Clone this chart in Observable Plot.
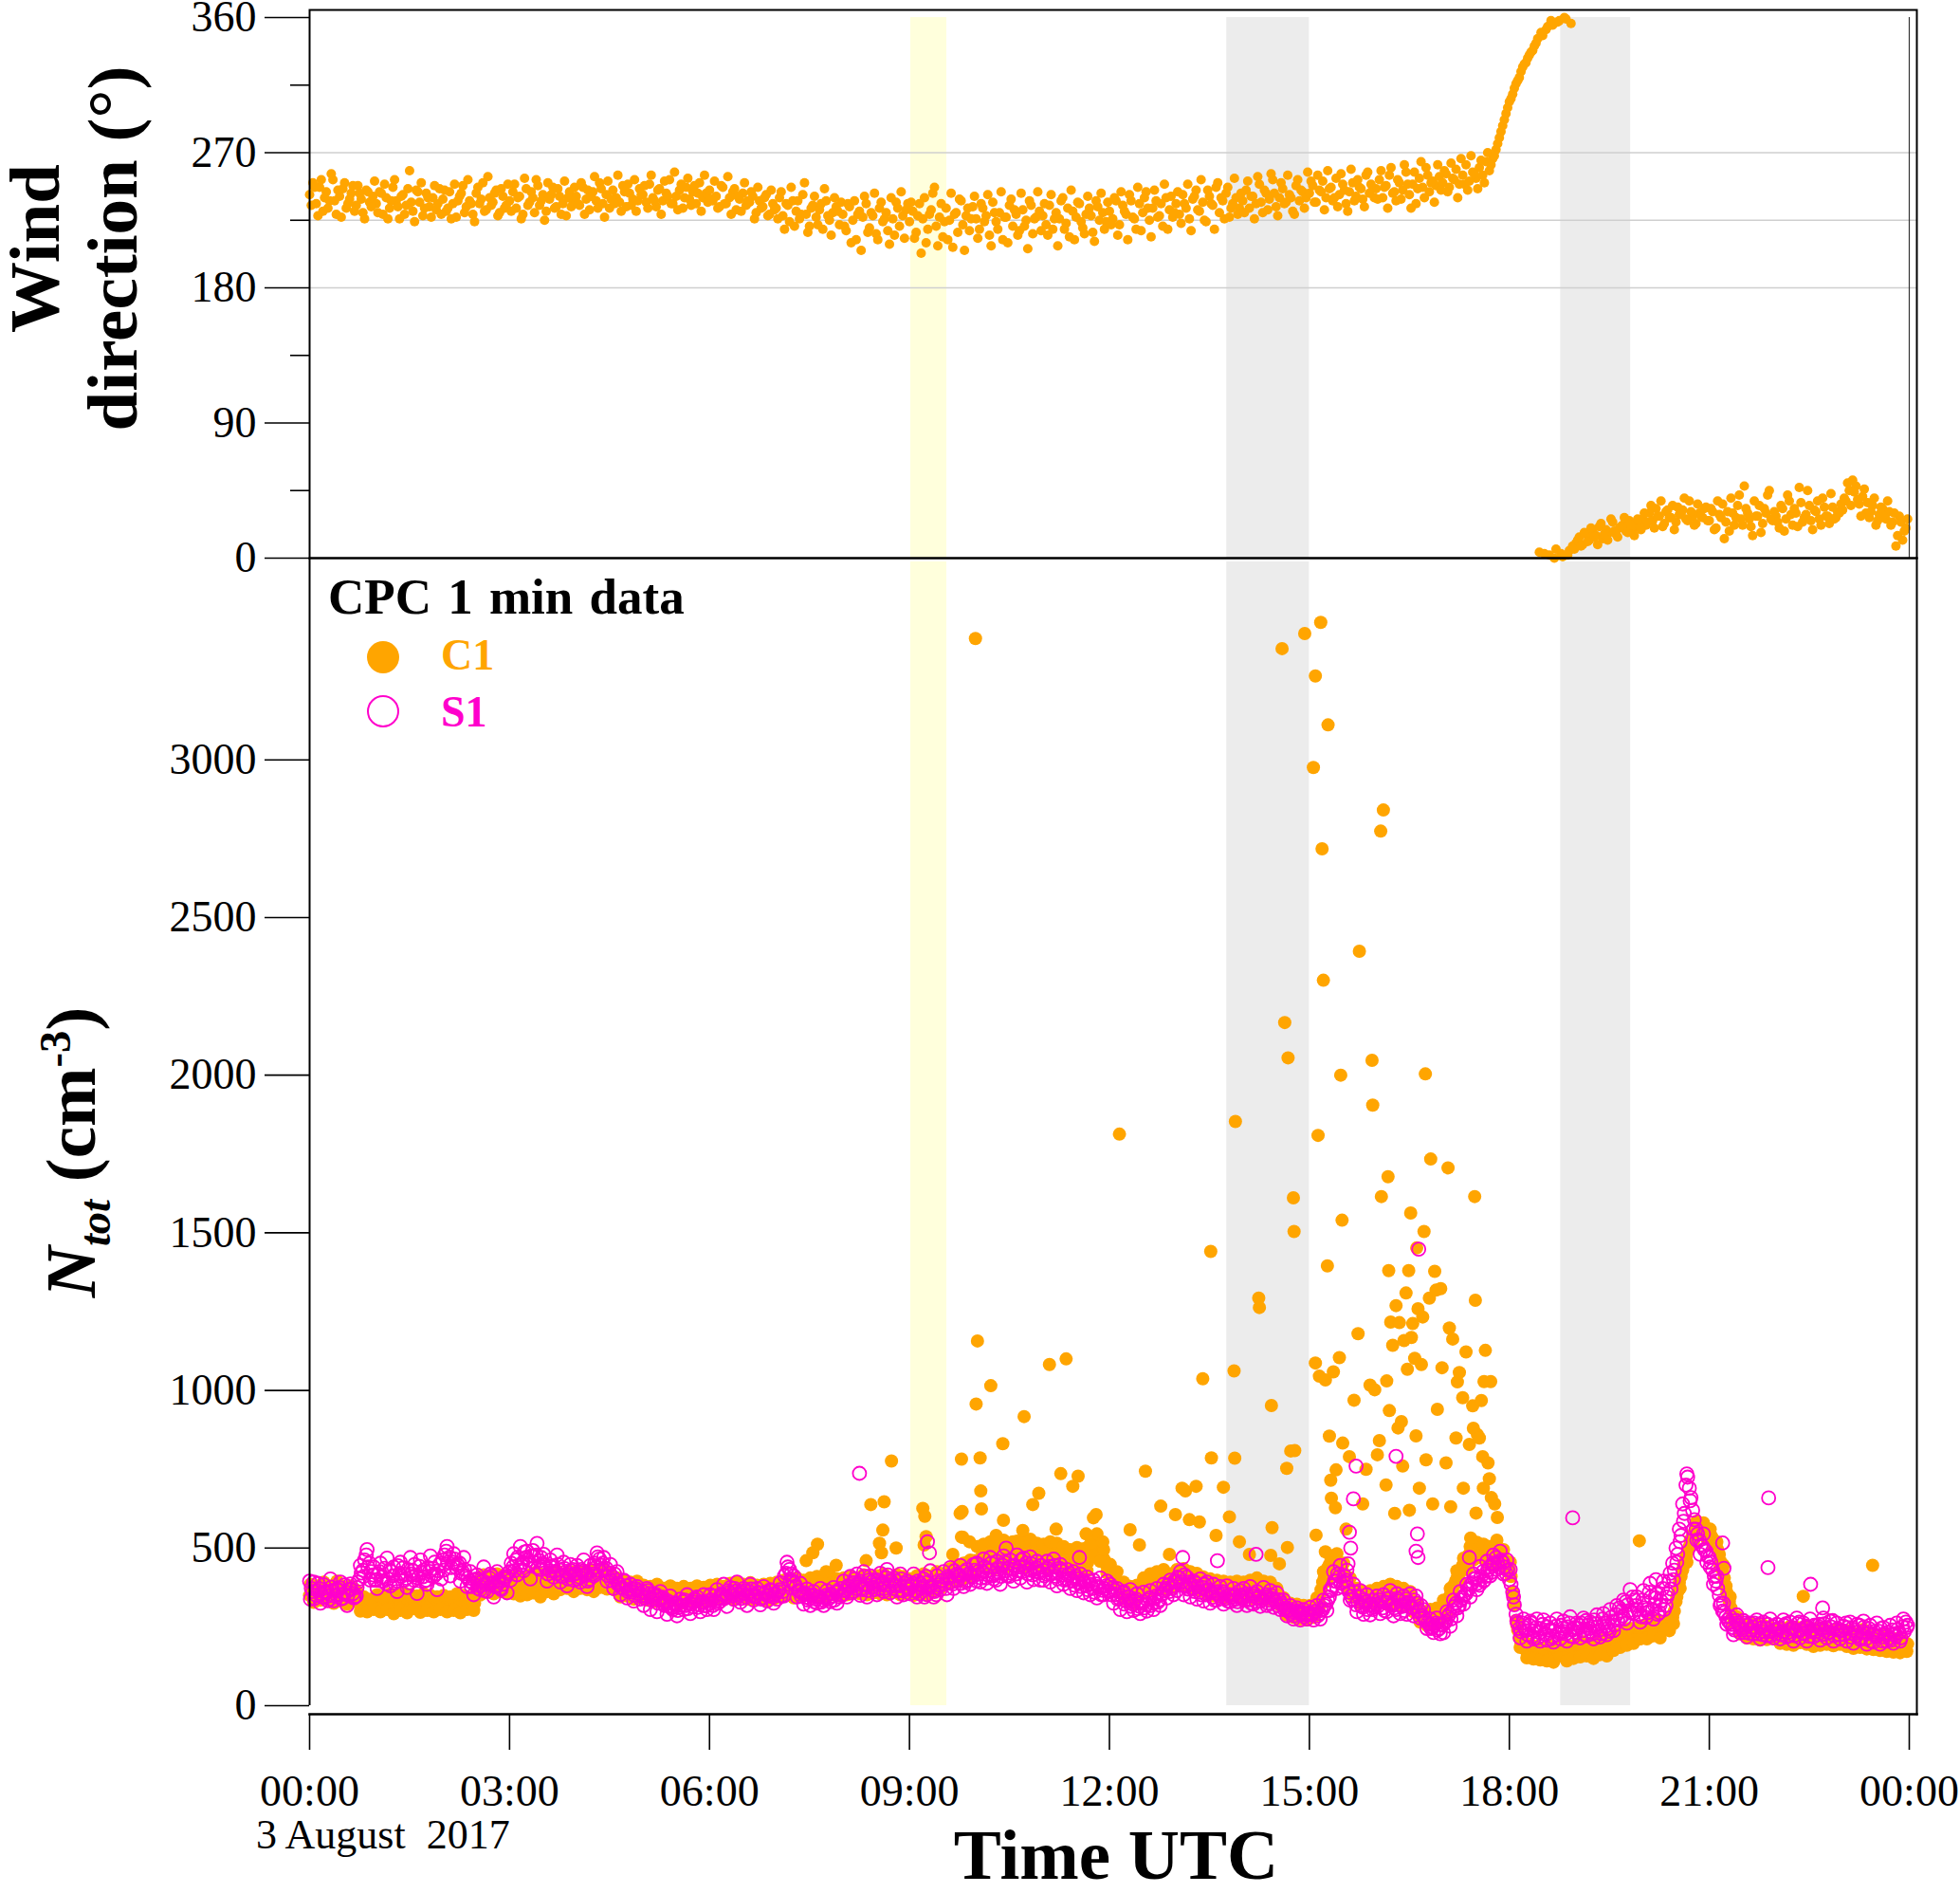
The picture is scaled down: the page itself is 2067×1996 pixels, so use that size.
<!DOCTYPE html>
<html>
<head>
<meta charset="utf-8">
<script src="https://cdn.jsdelivr.net/npm/d3@7"></script>
<script src="https://cdn.jsdelivr.net/npm/@observablehq/plot@0.6"></script>
<style>
  body { margin: 0; background: #fff; font-family: "Liberation Serif", "Times New Roman", serif; }
  #fig { position: relative; width: 2067px; height: 1996px; overflow: hidden; }
  #fig svg { position: absolute; left: 0; }
  .lab { position: absolute; white-space: nowrap; color: #000; line-height: 1; }
  .rot { transform: translate(-50%, -50%) rotate(-90deg); text-align: center; font-weight: bold; }
</style>
</head>
<body>
<div id="fig">
  <div id="windPanel"></div>
  <div id="ntotPanel"></div>
  <div class="lab rot" style="left:78px; top:262px; font-size:75px; line-height:82px;">Wind<br>direction (°)</div>
  <div class="lab rot" style="left:80px; top:1215px; font-size:75px;"><i>N</i><sub style="font-size:0.62em"><i>tot</i></sub> (cm<sup style="font-size:0.62em">-3</sup>)</div>
  <div class="lab" style="left:346px; top:603px; font-size:53px; font-weight:bold; word-spacing:4px;">CPC 1 min data</div>
  <svg style="left:380px; top:665px;" width="60" height="115">
    <circle cx="24" cy="28" r="17" fill="#ffa500"></circle>
    <circle cx="24" cy="85" r="16" fill="none" stroke="#ff00cc" stroke-width="2"></circle>
  </svg>
  <div class="lab" style="left:465px; top:668px; font-size:46px; font-weight:bold; color:#ffa500;">C1</div>
  <div class="lab" style="left:465px; top:728px; font-size:46px; font-weight:bold; color:#ff00cc;">S1</div>
  <div class="lab" style="left:270px; top:1913px; font-size:44px;">3 August&nbsp; 2017</div>
  <div class="lab" style="left:1177px; top:1918px; font-size:75px; font-weight:bold; transform:translateX(-50%);">Time UTC</div>
</div>
<script>
// wind direction (deg), one row per hour, 3-min samples on the minute
const windDir = [
  [242,250,236,247,231,244,238,252,229,241,246,233,239,248,235,243,230,245,237,241],
  [236,244,229,240,233,247,238,226,242,235,258,231,245,237,228,243,234,240,232,246],
  [239,231,244,236,227,241,248,234,238,229,243,236,250,232,240,237,245,230,241,235],
  [238,244,233,241,229,246,237,240,252,235,242,231,239,247,234,241,236,228,244,238],
  [241,235,247,239,232,244,238,250,236,242,233,245,240,237,248,234,243,239,231,246],
  [242,237,249,240,234,246,238,243,252,236,241,245,233,247,239,244,236,250,240,243],
  [245,238,241,234,247,236,240,244,232,239,243,235,237,241,230,238,234,242,229,236],
  [233,240,228,236,224,238,231,226,242,229,221,235,227,232,219,238,225,230,234,222],
  [229,218,234,225,212,231,227,236,220,228,216,233,224,230,209,226,237,221,228,232],
  [224,231,217,236,226,210,229,243,221,227,214,233,225,207,230,239,222,228,218,234],
  [226,219,233,228,215,237,224,230,212,227,235,221,229,218,232,225,238,216,227,231],
  [228,222,235,219,230,226,240,223,214,231,227,236,220,229,233,217,238,225,230,224],
  [231,226,238,222,235,229,242,227,219,236,230,244,225,233,238,228,221,240,232,227],
  [236,229,242,233,226,239,245,231,237,224,241,235,247,230,238,243,227,236,240,233],
  [238,245,233,241,236,249,230,243,239,252,234,240,246,237,242,231,248,238,244,240],
  [243,248,237,245,251,240,246,238,253,242,249,236,244,250,241,247,239,255,243,246],
  [246,252,240,248,255,243,238,250,245,257,242,249,236,253,247,260,244,251,248,254],
  [250,256,247,253,259,249,255,262,251,257,253,260,255,264,258,266,272,280,288,296],
  [304,309,316,320,327,330,335,338,343,4,348,352,2,355,6,358,1,359,5,8],
  [10,14,9,16,12,18,15,21,13,19,17,24,16,20,22,18,25,19,23,21],
  [26,22,30,25,33,28,21,31,27,35,24,29,32,26,38,28,23,30,27,34],
  [25,31,20,29,36,24,18,30,27,42,22,33,26,15,28,35,23,30,45,25],
  [28,20,33,26,38,22,30,47,24,29,35,19,31,26,40,28,23,34,27,30],
  [32,38,45,52,48,36,41,30,27,35,22,29,33,26,31,24,8,28,12,20]
];
// wind direction (deg), the in-between samples (1.5 min later)
const windDirB = [
  [235,247,228,252,240,233,256,238,245,227,250,236,243,231,248,239,226,244,234,251],
  [230,243,249,226,238,252,234,241,229,246,237,224,244,250,233,240,227,248,236,229],
  [245,233,226,249,238,243,230,252,236,224,247,239,231,254,235,243,228,246,233,249],
  [231,249,240,226,253,235,244,230,248,238,225,250,242,233,246,229,251,240,234,247],
  [236,250,229,245,241,254,233,246,227,251,239,236,255,231,244,249,235,252,238,242],
  [248,233,255,238,245,229,251,241,236,257,232,249,240,253,235,248,243,231,255,237],
  [239,251,233,248,236,254,229,246,241,231,250,238,244,226,247,233,240,228,245,232],
  [226,244,219,235,247,221,238,229,250,217,233,241,222,236,246,228,215,240,231,237],
  [221,236,210,238,229,205,241,217,230,243,212,237,226,218,240,215,233,244,213,236],
  [237,213,228,203,240,219,232,247,208,236,224,212,243,229,217,238,205,233,226,241],
  [213,236,224,242,208,230,219,244,227,210,239,232,215,243,221,206,235,226,244,218],
  [236,215,242,226,208,238,219,233,245,212,237,224,216,241,228,211,234,243,219,237],
  [222,240,215,244,231,212,238,226,247,218,240,233,214,245,227,236,249,219,241,230],
  [244,223,236,249,218,241,232,252,225,245,236,219,250,240,226,247,233,253,229,243],
  [230,251,241,226,254,237,245,232,256,243,228,250,236,255,240,229,252,245,233,257],
  [251,237,255,244,232,258,247,240,234,256,245,231,259,238,252,246,234,257,249,240],
  [239,258,247,233,260,244,252,239,262,249,233,257,246,264,240,255,250,237,262,245],
  [258,244,263,252,240,266,249,245,268,256,246,265,250,270,262,268,276,284,292,300],
  [306,313,318,324,329,333,337,341,346,350,3,354,358,0,357,3,360,2,356,6],
  [12,8,17,11,20,14,9,23,16,12,26,18,14,21,27,17,22,15,26,19],
  [30,24,35,20,28,38,23,32,27,19,34,29,40,25,31,22,36,28,33,25],
  [33,19,38,27,13,31,40,22,35,26,48,30,21,38,28,17,33,42,26,31],
  [24,35,18,42,29,33,21,37,27,45,25,32,38,22,34,28,43,26,31,36],
  [40,50,35,44,39,28,46,37,31,40,25,34,28,38,22,30,15,24,18,26]
];

// CPC C1 (cm-3), one row per hour, 3-min samples
const c1 = [
  [350,372,338,362,345,378,355,340,368,348,375,342,360,352,335,328,318,332,310,325],
  [318,335,322,340,312,330,325,338,315,328,342,320,334,312,326,345,322,336,318,330],
  [326,340,315,332,322,345,328,318,335,312,360,385,372,395,380,402,388,375,392,380],
  [372,366,380,358,374,362,385,368,378,392,370,384,396,378,402,388,395,410,392,400],
  [388,405,395,412,398,385,402,392,410,396,405,388,380,372,385,366,378,360,372,358],
  [365,352,370,348,362,355,344,360,350,342,358,346,352,360,340,355,348,362,345,356],
  [350,362,345,368,356,372,360,375,362,355,370,358,366,352,362,348,360,355,368,350],
  [360,372,355,378,362,368,382,365,375,358,372,385,362,378,355,370,388,362,375,368],
  [360,375,368,382,358,390,372,365,395,378,362,385,370,392,375,368,398,382,365,372],
  [375,362,388,370,358,382,365,392,378,402,385,410,395,420,405,432,418,442,425,450],
  [435,460,442,475,452,488,470,445,462,495,478,455,482,468,500,475,458,490,465,480],
  [470,492,458,482,465,445,478,452,440,468,455,432,460,445,480,505,520,495,470,448],
  [430,412,398,385,370,358,345,362,352,375,390,372,398,385,405,392,410,395,385,402],
  [410,420,398,415,392,405,388,400,372,385,368,378,360,375,365,380,358,372,362,378],
  [370,358,376,362,380,365,372,355,368,350,345,332,320,310,302,296,308,292,300,290],
  [295,302,318,345,392,420,448,470,455,440,425,398,382,365,350,342,330,348,335,352],
  [345,360,338,355,370,348,362,336,352,330,345,318,300,288,275,268,280,272,290,282],
  [300,318,345,372,398,420,445,462,480,495,470,505,488,472,460,475,510,488,470,455],
  [430,360,270,215,190,175,168,180,160,172,155,168,178,150,165,185,170,158,175,162],
  [170,182,165,190,175,160,185,172,195,168,180,200,188,210,195,222,205,218,230,212],
  [225,240,218,252,235,228,245,260,238,280,330,390,430,470,505,540,560,575,565,550],
  [545,530,510,480,430,380,330,290,265,250,240,232,245,228,238,222,235,218,230,225],
  [220,232,215,228,240,212,226,218,235,222,210,230,216,205,225,212,220,208,228,215],
  [210,222,205,218,200,215,225,198,212,205,195,210,202,190,205,195,185,200,192,188]
];
// CPC C1 (cm-3), samples 1.5 min later
const c1B = [
  [362,345,380,352,368,340,372,358,345,380,355,366,342,370,328,315,335,322,308,330],
  [328,312,345,320,335,308,342,325,318,338,312,330,345,318,335,322,340,315,328,342],
  [318,335,328,310,342,322,336,315,330,325,375,368,392,380,398,372,390,405,385,398],
  [385,375,362,388,370,395,358,380,392,372,398,378,385,405,390,412,385,398,405,388],
  [402,392,415,388,405,395,412,386,400,415,392,398,375,390,362,380,355,368,365,372],
  [358,368,345,362,350,365,352,340,362,348,355,338,365,350,358,345,362,338,352,348],
  [358,345,372,350,365,355,368,352,378,365,358,372,355,368,345,362,350,372,358,362],
  [368,355,372,362,385,370,360,378,392,370,380,362,395,368,382,360,375,398,380,362],
  [372,388,362,395,375,368,402,380,372,395,385,378,400,365,388,395,372,390,385,378],
  [362,385,372,395,380,370,395,402,385,410,395,420,402,432,415,438,425,455,440,460],
  [452,470,448,490,462,475,455,498,472,460,488,470,495,475,488,462,505,478,495,470],
  [485,465,498,472,490,458,488,470,455,478,462,448,472,455,498,515,505,482,462,440],
  [418,402,388,372,362,352,370,345,365,382,368,395,378,402,388,412,398,405,392,410],
  [402,412,392,425,405,395,412,385,395,375,392,370,385,368,378,352,370,382,368,372],
  [362,378,365,385,370,358,380,362,375,358,340,325,315,305,298,305,295,302,288,298],
  [302,295,325,368,408,438,462,452,448,432,412,390,375,358,345,355,338,342,348,340],
  [352,340,365,348,358,340,355,345,338,342,330,312,295,282,270,275,285,278,285,295],
  [312,330,358,385,410,432,452,475,492,482,498,490,478,465,482,468,495,478,462,445],
  [410,320,240,200,182,170,178,165,170,158,165,160,170,158,172,178,162,168,165,172],
  [178,165,185,172,182,168,178,190,175,185,192,195,205,198,215,208,225,212,222,235],
  [232,228,245,240,255,238,252,268,262,300,360,410,450,490,520,550,570,560,555,540],
  [540,520,495,455,405,350,310,278,260,245,235,248,230,242,225,238,228,240,222,232],
  [215,225,230,208,232,222,212,238,215,228,218,205,222,235,212,225,205,218,222,210],
  [218,200,212,225,208,195,218,205,215,198,208,192,212,198,188,205,192,195,182,196]
];
// CPC C1 (cm-3), samples 0.75 min later (the wider scatter)
const c1C = [
  [385,328,372,335,392,338,378,325,395,332,368,322,380,345,362,300,345,298,338,305],
  [352,298,345,305,355,292,348,302,358,295,352,308,348,296,355,302,350,298,345,305],
  [350,298,345,302,355,295,350,305,338,302,395,352,415,362,408,355,418,362,412,358],
  [405,355,412,348,402,352,415,358,425,345,410,362,422,355,428,368,418,372,425,362],
  [428,372,425,368,432,362,422,375,428,370,420,368,405,345,398,348,392,338,395,342],
  [382,335,378,330,385,332,372,328,380,335,372,325,378,335,372,330,380,328,375,335],
  [382,335,385,338,378,342,388,335,392,345,385,338,390,335,382,340,385,332,388,338],
  [392,345,398,350,395,342,405,348,398,352,405,345,410,342,398,350,412,352,402,348],
  [405,352,410,358,402,355,415,352,408,358,412,355,418,352,405,360,415,352,410,355],
  [402,350,412,355,418,352,410,365,425,372,418,385,435,392,445,395,452,405,462,418],
  [505,438,512,445,520,432,515,448,525,440,512,452,522,445,518,438,528,448,515,442],
  [512,438,520,445,515,432,505,448,495,425,502,418,498,428,512,475,545,458,495,422],
  [448,395,425,362,392,335,378,325,382,352,405,362,418,365,425,372,432,368,418,375],
  [432,385,435,378,425,372,420,365,408,355,402,348,398,345,395,342,392,348,395,345],
  [392,345,398,338,405,342,395,335,392,338,372,318,342,288,325,280,322,275,318,272],
  [318,280,342,320,425,395,475,430,482,418,452,372,405,345,372,325,362,322,365,325],
  [372,325,378,322,385,328,378,322,372,318,362,298,325,265,298,255,305,262,310,268],
  [335,288,372,345,428,392,468,432,505,462,518,470,512,452,505,445,525,462,495,428],
  [455,345,255,185,205,152,195,148,188,145,182,142,192,138,185,158,190,142,188,150],
  [195,155,202,158,198,150,205,162,210,158,212,175,225,185,235,192,245,198,248,212],
  [255,212,262,222,272,215,268,245,282,260,345,372,445,455,525,520,585,555,580,530],
  [560,505,520,440,445,360,345,262,282,228,258,215,262,212,255,208,255,210,248,212],
  [238,198,245,195,252,192,248,200,250,195,240,188,245,192,248,195,235,190,242,195],
  [232,188,238,182,228,185,242,180,232,178,222,175,228,172,218,170,212,168,205,172]
];

// C1 isolated high readings [hour, cm-3]
const c1Spikes = [
  [7.45,460],[7.55,485],[7.62,512],[7.75,425],[7.9,445],[8.05,405],
  [8.35,460],[8.42,638],[8.55,515],[8.58,485],[8.6,557],[8.62,647],[8.73,776],[8.8,500],
  [9.2,626],[9.22,510],[9.23,601],[9.25,536],[9.65,480],[9.76,610],[9.78,782],[9.78,535],
  [9.8,534],[9.79,616],[9.9,520],[9.99,3385],[10.0,957],[10.02,1157],
  [10.06,786],[10.07,681],[10.08,624],[10.22,1015],[10.3,540],[10.4,831],[10.41,588],
  [10.55,520],[10.7,556],[10.72,917],[10.85,638],[10.94,674],
  [11.1,1082],[11.2,560],[11.27,736],[11.35,1100],[11.45,696],[11.53,728],[11.65,545],
  [11.76,596],[11.8,606],[11.9,520],
  [12.15,1813],[12.31,558],[12.45,510],[12.54,744],[12.77,633],[12.9,480],[12.99,606],
  [13.09,690],[13.14,681],[13.2,590],[13.3,696],[13.35,583],[13.4,1037],[13.52,1441],
  [13.53,786],[13.6,540],[13.71,693],[13.8,599],[13.87,1062],[13.88,785],[13.89,1853],[13.95,520],
  [14.1,480],[14.24,1293],[14.25,1263],[14.42,477],[14.43,952],[14.44,565],[14.55,450],
  [14.59,3353],[14.63,2167],[14.66,753],[14.67,502],[14.68,2055],[14.72,808],[14.76,1611],
  [14.77,1504],[14.78,809],[14.93,3401],
  [15.06,2976],[15.09,3266],[15.09,1087],[15.1,541],[15.13,1809],[15.15,1045],[15.17,3436],
  [15.19,2718],[15.21,2301],[15.24,1033],[15.24,488],[15.27,1395],[15.28,3111],[15.3,855],
  [15.32,715],[15.33,658],[15.36,1059],[15.39,628],[15.4,748],[15.45,1104],[15.47,2000],
  [15.49,1540],[15.5,833],[15.55,560],[15.6,790],[15.67,969],[15.73,1180],[15.75,2393],
  [15.8,640],[15.85,750],[15.91,1017],[15.94,2047],[15.95,1905],[15.98,1002],
  [16.02,796],[16.05,841],[16.07,2774],[16.08,1615],[16.11,2841],[16.15,700],[16.16,1030],
  [16.18,1678],[16.19,1380],[16.2,936],[16.22,1217],[16.25,1143],[16.28,610],[16.3,1269],
  [16.33,881],[16.35,1215],[16.38,901],[16.4,760],[16.42,1158],[16.45,1309],[16.47,1067],
  [16.49,1380],[16.5,620],[16.52,1563],[16.53,1168],[16.55,1212],[16.58,1102],[16.6,856],
  [16.61,1452],[16.63,1259],[16.65,690],[16.68,1082],[16.7,1233],[16.72,1504],[16.74,2004],
  [16.75,780],[16.8,1293],[16.82,1734],[16.85,640],[16.88,1378],[16.9,1318],[16.92,940],
  [16.97,1323],[16.99,1072],
  [17.05,770],[17.08,1706],[17.1,1198],[17.12,631],[17.15,1163],[17.2,849],[17.22,1027],
  [17.25,1057],[17.3,977],[17.31,690],[17.35,1122],[17.4,829],[17.42,532],[17.45,951],
  [17.46,880],[17.48,1615],[17.49,1286],[17.5,611],[17.52,860],[17.55,849],[17.58,968],
  [17.6,790],[17.61,690],[17.62,1028],[17.64,1127],[17.68,770],[17.7,720],[17.72,1028],
  [17.73,660],[17.78,640],[17.82,597],
  [19.95,523],[22.41,347],[23.45,445]
];

// CPC S1 (cm-3), one row per hour, 3-min samples
const s1 = [
  [395,362,350,371,344,358,338,366,352,375,341,360,370,355,348,402,430,478,452,415],
  [398,425,408,386,431,412,395,420,437,404,390,428,415,442,409,398,426,436,418,447],
  [462,490,471,455,438,452,423,410,395,388,402,380,396,384,405,390,378,398,385,410],
  [425,440,462,438,455,470,447,492,478,460,451,436,428,444,419,431,410,426,415,432],
  [420,408,427,413,401,418,440,465,452,436,421,408,398,385,372,380,366,360,371,355],
  [362,348,356,340,352,335,344,328,316,305,322,312,330,318,326,314,335,320,328,317],
  [324,318,332,340,352,346,360,355,364,350,358,345,362,352,348,356,343,360,350,345],
  [355,368,362,420,432,395,378,362,355,345,340,352,338,346,335,350,342,348,360,345],
  [352,365,378,390,372,395,368,382,399,376,385,371,390,406,384,372,395,380,364,378],
  [370,388,362,355,378,410,374,365,352,383,398,372,405,386,398,415,402,392,420,408],
  [396,418,425,405,430,412,398,421,445,428,410,432,418,440,425,452,430,415,438,422],
  [430,418,442,425,410,436,415,402,420,395,410,388,398,380,395,372,386,375,366,380],
  [362,375,352,340,358,332,345,322,338,315,330,320,342,325,348,336,355,372,362,380],
  [395,405,382,378,392,370,388,360,375,352,368,344,356,348,362,340,352,345,338,350],
  [342,355,336,348,330,345,338,352,334,340,328,336,318,310,305,298,302,292,296,288],
  [295,290,300,292,305,322,345,380,395,410,376,398,360,338,320,345,312,330,318,305],
  [322,336,310,328,342,318,305,332,315,338,325,310,348,302,285,270,258,248,262,245],
  [255,268,290,302,325,318,342,355,372,390,405,382,425,410,440,452,470,438,455,420],
  [400,360,290,245,262,238,255,220,248,232,258,225,240,218,252,230,245,228,262,240],
  [232,255,238,270,245,228,260,240,275,252,236,268,290,310,285,330,302,345,318,290],
  [335,280,360,305,342,295,372,318,395,452,500,560,640,700,690,620,560,525,505,490],
  [470,430,395,350,300,282,265,248,270,255,240,262,230,250,238,258,225,245,235,252],
  [228,246,235,260,222,248,238,265,230,252,220,242,235,258,226,248,232,270,240,225],
  [238,262,230,248,222,255,235,212,244,228,218,236,205,226,215,240,220,232,250,265]
];
// CPC S1 (cm-3), samples 1.5 min later
const s1B = [
  [372,340,388,355,362,333,376,348,365,339,383,351,368,344,392,421,462,440,425,398],
  [418,396,436,402,425,389,444,410,398,432,418,448,405,422,395,438,412,455,428,402],
  [478,455,438,465,445,420,432,405,378,398,372,392,365,388,412,378,395,368,402,420],
  [452,428,471,446,488,462,475,455,438,470,445,418,440,425,448,410,435,402,428,418],
  [402,432,415,395,428,452,472,445,428,412,398,418,385,375,395,362,372,350,365,348],
  [342,365,335,348,325,340,318,332,310,325,302,318,335,308,322,340,312,330,318,332],
  [335,348,325,355,340,365,348,372,356,340,365,352,370,345,360,338,355,348,365,352],
  [362,348,412,440,418,388,365,348,358,335,348,330,345,328,342,338,355,335,365,350],
  [365,380,358,402,385,372,410,365,392,368,398,385,372,415,395,380,365,402,388,370],
  [382,365,395,372,345,392,380,362,375,395,385,410,392,428,412,388,425,398,412,430],
  [425,405,440,415,452,420,432,410,455,435,420,445,428,462,440,418,450,432,425,445],
  [412,435,420,445,402,428,398,415,405,382,402,378,392,368,385,360,378,352,372,365],
  [352,366,338,350,322,345,315,332,308,325,310,335,318,340,328,352,365,382,372,395],
  [408,392,415,370,385,362,378,352,385,365,358,335,362,340,355,332,345,352,330,342],
  [335,348,325,355,340,332,345,325,350,335,318,325,305,300,292,285,296,288,282,292],
  [288,298,285,302,318,335,365,395,418,388,412,375,348,362,332,318,336,305,322,312],
  [315,328,302,338,322,310,340,318,302,328,312,335,298,318,278,262,245,255,240,258],
  [262,282,275,315,310,335,350,368,385,402,388,410,398,430,422,448,455,462,440,430],
  [385,320,262,235,248,225,262,238,215,245,228,250,212,238,225,255,235,250,220,248],
  [245,262,225,255,235,272,250,228,262,245,280,255,272,300,275,320,295,335,305,282],
  [310,295,345,320,290,332,305,355,370,430,480,540,610,725,660,590,545,510,495,475],
  [455,410,372,325,295,272,258,240,262,245,232,255,240,262,228,246,235,258,222,240],
  [240,225,255,232,245,222,260,240,228,248,235,255,225,242,260,232,250,222,245,238],
  [225,248,218,240,232,215,250,228,205,235,222,245,218,232,208,228,242,215,235,255]
];
// CPC S1 (cm-3), samples 0.75 min later (the wider scatter)
const s1C = [
  [338,392,365,325,384,347,402,333,371,392,355,318,386,342,375,445,410,495,398,440],
  [372,452,395,468,380,440,362,455,418,375,470,398,356,462,430,385,475,410,368,452],
  [430,505,412,482,450,395,470,378,425,352,415,368,440,362,418,345,425,372,408,358],
  [398,482,415,505,428,490,402,475,515,432,480,395,462,408,478,392,455,380,448,398],
  [445,392,462,378,445,412,485,428,470,395,448,372,425,352,398,342,385,332,378,338],
  [318,372,305,355,298,362,325,290,348,312,285,338,305,352,292,328,345,298,352,305],
  [352,305,368,332,385,315,375,338,392,328,372,318,385,335,372,320,378,332,368,325],
  [338,390,348,455,395,412,345,388,322,370,318,362,325,372,318,365,330,375,325,372],
  [395,345,410,362,418,350,425,345,412,398,352,420,362,432,358,405,345,418,352,395],
  [355,418,345,388,402,352,428,345,412,368,425,352,438,372,418,445,378,432,385,448],
  [452,392,465,388,470,402,458,385,475,412,462,395,478,405,468,392,472,400,458,398],
  [398,458,392,465,380,448,385,432,372,425,365,418,358,408,352,398,342,405,352,395],
  [385,325,372,305,362,298,368,302,355,292,360,300,365,305,372,318,385,342,398,352],
  [365,425,352,408,345,395,338,402,332,392,325,385,335,378,322,380,330,372,318,365],
  [372,318,378,322,362,315,375,318,365,312,358,305,335,285,318,275,310,272,305,275],
  [312,272,318,275,335,302,368,425,372,445,392,430,335,385,298,365,290,352,288,335],
  [348,292,352,298,365,285,355,292,348,290,355,285,325,278,305,245,275,232,278,228],
  [232,298,252,335,285,362,322,385,345,418,368,442,395,458,412,478,432,490,418,462],
  [432,345,268,215,275,205,268,212,275,205,272,208,262,202,275,212,268,205,282,218],
  [262,215,278,222,265,212,288,218,292,225,305,238,318,275,335,262,368,292,345,265],
  [365,305,388,275,355,320,395,345,420,400,455,520,585,735,650,560,525,480,545,455],
  [440,385,410,318,325,258,282,225,288,232,270,218,262,228,272,212,265,222,275,215],
  [258,212,272,218,265,205,278,215,262,205,275,218,255,208,278,215,268,205,262,212],
  [252,205,265,198,258,210,268,195,255,202,262,195,248,205,255,198,262,205,275,248]
];

// S1 isolated readings [hour, cm-3]
const s1Spikes = [
  [8.25,737],[9.27,520],[9.3,485],[10.0,450],[10.45,500],[11.55,470],[13.1,470],
  [13.62,460],[14.2,480],[15.58,450],[15.6,550],[15.62,500],[15.66,656],[15.7,760],
  [16.3,791],[16.6,490],[16.62,545],[16.63,470],[16.64,1448],[17.4,470],[18.95,596],
  [20.2,400],[21.2,516],[21.22,436],[21.89,659],[21.88,438],[22.52,385],[22.7,310]
];

// shaded periods (hours)
const bandStart = [9.02, 13.76, 18.77];
const bandEnd = [9.56, 15.0, 19.82];
const bandFill = ["#ffffdc", "#ececec", "#ececec"];

const hourTicks = [0, 3, 6, 9, 12, 15, 18, 21, 24];
const windTicks = [0, 90, 180, 270, 360];
const windMinor = [45, 135, 225, 315];
const windGrid = [180, 225, 270];
const ntotTicks = [0, 500, 1000, 1500, 2000, 2500, 3000];
const ntotMax = 3640;

const ORANGE = "#ffa500";
const MAGENTA = "#ff00cc";

// hour rows -> {h, v}; the offset places each extra sample set between the others
function rows(table, offset = 0) {
  return table.flatMap((row, h) => row.map((v, j) => ({h: h + (j + offset) / row.length, v})));
}
const windData = rows(windDir).concat(rows(windDirB, 0.5));
const c1Data = rows(c1).concat(rows(c1B, 0.5), rows(c1C, 0.25));
const s1Data = rows(s1).concat(rows(s1B, 0.5), rows(s1C, 0.25));
const c1SpikeData = c1Spikes.map(([h, v]) => ({h, v}));
const s1SpikeData = s1Spikes.map(([h, v]) => ({h, v}));
const bands = bandStart.map((s, i) => ({s, e: bandEnd[i], fill: bandFill[i]}));

const font = {fontFamily: "'Liberation Serif', 'Times New Roman', serif", fontSize: "46px", background: "transparent", overflow: "visible"};

// top panel: wind direction
const windChart = Plot.plot({
  width: 2067,
  height: 630,
  marginLeft: 326,
  marginRight: 46,
  marginTop: 10,
  marginBottom: 42,
  style: font,
  x: {domain: [0, 24], range: [326, 2013], axis: null},
  y: {domain: [0, 360], range: [588, 18], label: null},
  marks: [
    Plot.rect(bands, {x1: "s", x2: "e", y1: 0, y2: 360, fill: "fill"}),
    Plot.ruleY(windGrid, {stroke: "#cfcfcf", strokeWidth: 1.5}),
    Plot.dot(windData, {x: "h", y: "v", r: 5, fill: ORANGE}),
    Plot.ruleX([24], {y1: 0, y2: 360, stroke: "#333", strokeWidth: 1.2}),
    Plot.frame({stroke: "#000", strokeWidth: 2}),
    Plot.axisY({ticks: windTicks, tickSize: 47, tickPadding: 9, strokeWidth: 1.6, label: null, fontSize: 46}),
    Plot.axisY({ticks: windMinor, tickSize: 20, strokeWidth: 1.6, label: null, tickFormat: () => ""})
  ]
});
document.getElementById("windPanel").append(windChart);
windChart.style.top = "0px";

// bottom panel: particle number concentration
const ntotChart = Plot.plot({
  width: 2067,
  height: 1360,
  marginLeft: 326,
  marginRight: 46,
  marginTop: 10,
  marginBottom: 131,
  style: font,
  x: {domain: [0, 24], range: [326, 2013], label: null},
  y: {domain: [0, ntotMax], range: [1220, 10], label: null},
  marks: [
    Plot.rect(bands, {x1: "s", x2: "e", y1: 0, y2: ntotMax, fill: "fill", insetTop: 4}),
    Plot.dot(c1Data, {x: "h", y: "v", r: 7, fill: ORANGE}),
    Plot.dot(c1SpikeData, {x: "h", y: "v", r: 7, fill: ORANGE}),
    Plot.dot(s1Data, {x: "h", y: "v", r: 7, fill: "none", stroke: MAGENTA, strokeWidth: 1.8}),
    Plot.dot(s1SpikeData, {x: "h", y: "v", r: 7, fill: "none", stroke: MAGENTA, strokeWidth: 1.8}),
    Plot.frame({anchor: "top", stroke: "#000", strokeWidth: 2}),
    Plot.frame({anchor: "right", stroke: "#000", strokeWidth: 2}),
    Plot.frame({anchor: "bottom", stroke: "#000", strokeWidth: 2.5}),
    Plot.ruleX([0], {y1: 0, y2: ntotMax, stroke: "#000", strokeWidth: 2}),
    Plot.axisY({ticks: ntotTicks, tickSize: 47, tickPadding: 9, strokeWidth: 1.6, label: null, fontSize: 46, tickFormat: d => String(d)}),
    Plot.axisX({ticks: hourTicks, tickSize: 38, tickPadding: 26, strokeWidth: 1.6, label: null, fontSize: 46,
      tickFormat: h => String(h % 24).padStart(2, "0") + ":00"})
  ]
});
document.getElementById("ntotPanel").append(ntotChart);
ntotChart.style.top = "578px";
</script>
</body>
</html>
